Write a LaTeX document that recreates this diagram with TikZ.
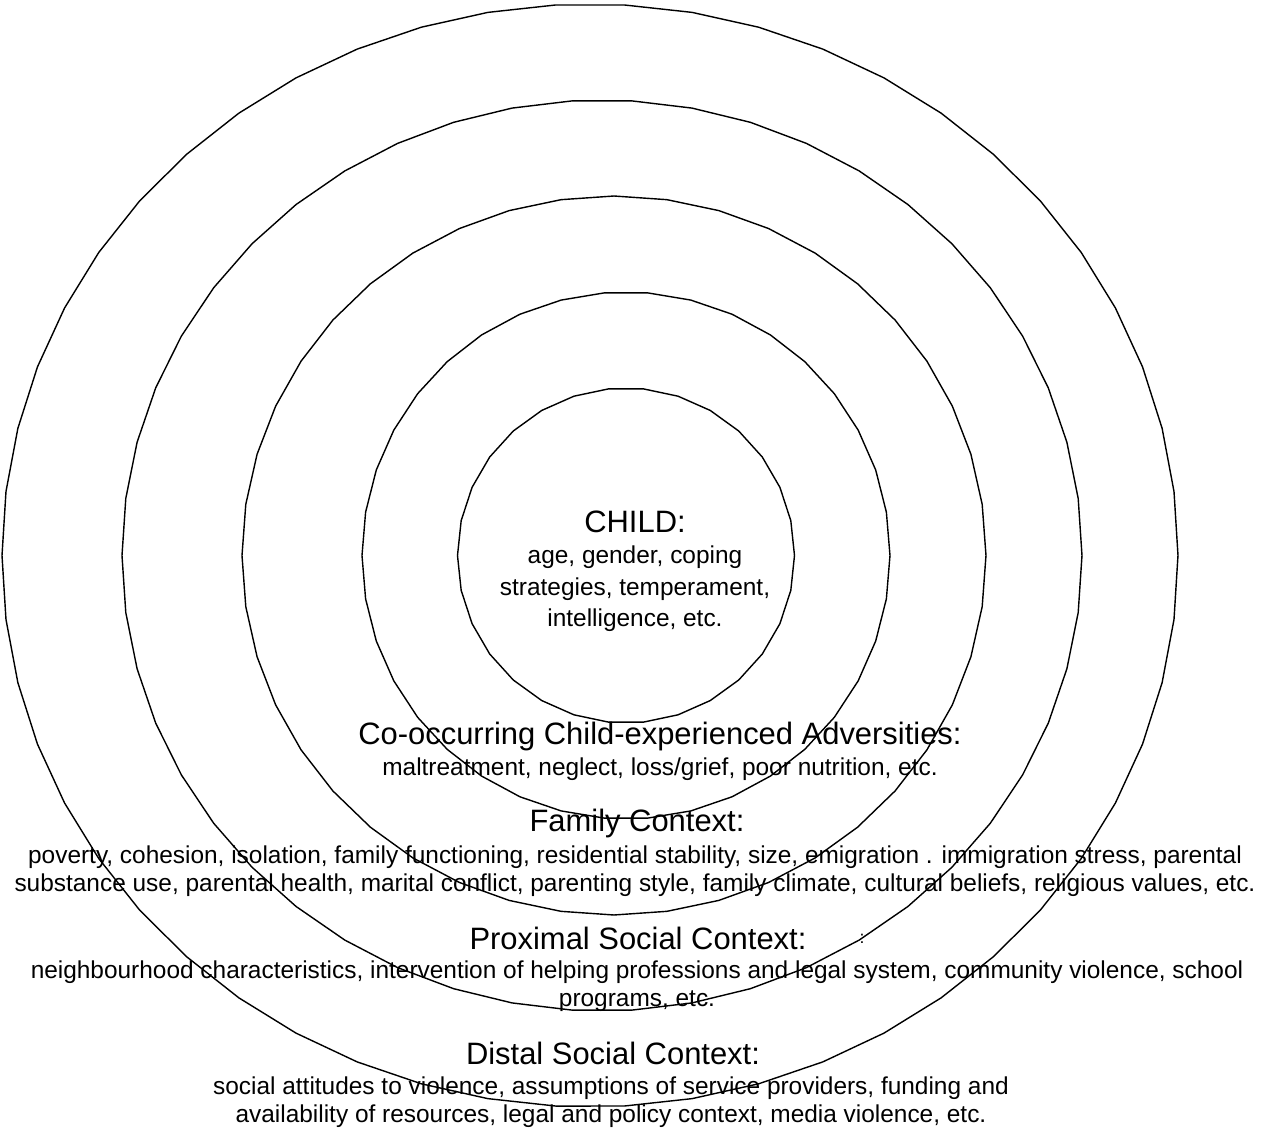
\documentclass[tikz,border=0pt]{standalone}
\usepackage{fontspec}
\setmainfont{Liberation Sans}
\begin{document}
    \begin{tikzpicture}[line width=0.8pt,
            heading/.style={font=\fontsize{17.6}{21}\selectfont, inner sep=0pt},
            detail/.style={font=\fontsize{13.9}{15.9}\selectfont, align=center, inner sep=0pt},
            childdetail/.style={font=\fontsize{13.9}{17.9}\selectfont, align=center, inner sep=0pt}]
        \useasboundingbox (-12.52,-11.45) rectangle (12.76,11.11);
        \foreach \cx/\rx/\ry/\n in {0/3.37/3.35/31, 0/5.28/5.27/39, -0.24/7.44/7.19/45, -0.48/9.6/9.11/51, -0.72/11.76/11.03/55}
            \draw plot[domain=0:360,samples=\n] ({\cx+\rx*cos(\x)},{\ry*sin(\x)}) -- cycle;
        \node[heading] (child) at (0.18,0.67) {CHILD:};
        \node[childdetail] (childtxt) at (0.18,-0.67) {age, gender, coping\\strategies, temperament,\\intelligence, etc.};
        \node[heading] (advers) at (0.68,-3.61) {Co-occurring Child-experienced Adversities:};
        \node[detail] (adverstxt) at (0.68,-4.28) {maltreatment, neglect, loss/grief, poor nutrition, etc.};
        \node[heading] (family) at (0.22,-5.35) {Family Context:};
        \node[detail] (familytxt) at (0.18,-6.32) {poverty, cohesion, isolation, family functioning, residential stability, size, emigration . immigration stress, parental\\substance use, parental health, marital conflict, parenting style, family climate, cultural beliefs, religious values, etc.};
        \node[heading] (proximal) at (0.24,-7.65) {Proximal Social Context:};
        \node[font=\fontsize{10}{12}\selectfont, inner sep=0pt] (dots) at (4.72,-7.66) {:};
        \node[detail] (proximaltxt) at (0.22,-8.62) {neighbourhood characteristics, intervention of helping professions and legal system, community violence, school\\programs, etc.};
        \node[heading] (distal) at (-0.26,-9.95) {Distal Social Context:};
        \node[detail] (distaltxt) at (-0.3,-10.94) {social attitudes to violence, assumptions of service providers, funding and\\availability of resources, legal and policy context, media violence, etc.};
    \end{tikzpicture}
\end{document}
